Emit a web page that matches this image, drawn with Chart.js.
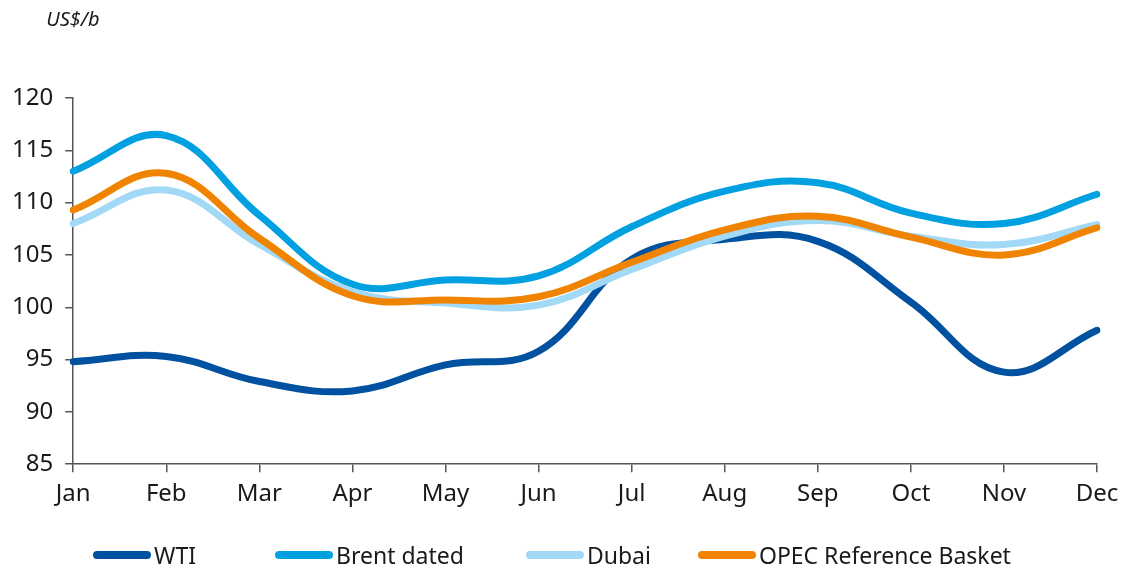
<!DOCTYPE html>
<html>
<head>
<meta charset="utf-8">
<script src="https://cdn.jsdelivr.net/npm/chart.js@4/dist/chart.umd.min.js"></script>
<style>
  html, body { margin: 0; padding: 0; background: #fff; }
  #wrap { width: 1122px; height: 568px; position: relative; }
  #legend {
    position: absolute; left: 93px; top: 539px; height: 32px;
    display: flex; align-items: center;
    font-family: 'Noto Sans', sans-serif; font-size: 23px; color: #1a1a1a;
  }
  #legend .item { display: flex; align-items: center; }
  #legend .swatch { width: 58px; height: 8px; border-radius: 4px; margin-right: 3px; }
</style>
</head>
<body>
<div id="wrap">
  <canvas id="chart" width="1122" height="568"></canvas>
  <div id="legend"></div>
</div>
<script>
// data
const months = ['Jan', 'Feb', 'Mar', 'Apr', 'May', 'Jun', 'Jul', 'Aug', 'Sep', 'Oct', 'Nov', 'Dec'];
const wti = [94.8, 95.3, 92.9, 92.0, 94.5, 95.8, 104.6, 106.5, 106.3, 100.5, 93.8, 97.8];
const brent = [113.0, 116.4, 108.8, 102.2, 102.6, 103.0, 107.7, 111.1, 111.9, 109.0, 108.0, 110.8];
const dubai = [108.0, 111.2, 106.0, 101.5, 100.4, 100.2, 103.6, 106.8, 108.3, 106.8, 106.0, 107.9];
const opec = [109.3, 112.8, 106.6, 101.1, 100.7, 101.0, 104.3, 107.4, 108.7, 106.7, 105.0, 107.6];
const yTicks = [85, 90, 95, 100, 105, 110, 115, 120];

const FONT = "'Noto Sans', sans-serif";
const TXT = '#1a1a1a';
const AXIS = '#555555';

function series(label, data, color, order) {
    return {
        label: label,
        data: data,
        borderColor: color,
        backgroundColor: color,
        borderWidth: 7,
        borderCapStyle: 'round',
        borderJoinStyle: 'round',
        pointRadius: 0,
        pointHoverRadius: 0,
        tension: 0.4,
        fill: false,
        order: order
    };
}

// italic unit label top left
const unitLabel = {
    id: 'unitLabel',
    afterDraw(chart) {
        const ctx = chart.ctx;
        ctx.save();
        ctx.font = "italic 20px " + FONT;
        ctx.fillStyle = TXT;
        ctx.textBaseline = 'middle';
        ctx.textAlign = 'left';
        ctx.fillText('US$/b', chart.chartArea.left - 27, 20);
        ctx.restore();
    }
};

const chart = new Chart(document.getElementById('chart'), {
    type: 'line',
    data: {
        labels: months,
        datasets: [
            series('WTI', wti, '#0052a0', 3),
            series('Brent dated', brent, '#00a0e1', 2),
            series('Dubai', dubai, '#a2d9f7', 1),
            series('OPEC Reference Basket', opec, '#f08300', 0)
        ]
    },
    options: {
        responsive: false,
        animation: false,
        events: [],
        layout: { padding: { left: 0, right: 25, top: 98, bottom: 51 } },
        plugins: {
            tooltip: { enabled: false },
            legend: { display: false }
        },
        scales: {
            x: {
                offset: false,
                // let the layout padding alone decide where Dec sits
                afterFit(scale) { scale.paddingLeft = 0; scale.paddingRight = 0; },
                border: { display: true, color: AXIS, width: 1.5 },
                grid: { drawOnChartArea: false, drawTicks: true, tickLength: 8, color: AXIS, lineWidth: 1.5 },
                ticks: { color: TXT, font: { family: FONT, size: 24 }, padding: 8, maxRotation: 0, autoSkip: false }
            },
            y: {
                min: yTicks[0],
                max: yTicks[yTicks.length - 1],
                afterBuildTicks(axis) { axis.ticks = yTicks.map(v => ({ value: v })); },
                border: { display: true, color: AXIS, width: 1.5 },
                grid: { drawOnChartArea: false, drawTicks: true, tickLength: 8, color: AXIS, lineWidth: 1.5 },
                ticks: { color: TXT, font: { family: FONT, size: 24 }, padding: 12 }
            }
        }
    },
    plugins: [unitLabel]
});

// legend built from the datasets, in dataset order; gaps follow the reference
const legendGaps = [79, 62, 47, 0];
const legendEl = document.getElementById('legend');
chart.data.datasets.forEach((ds, i) => {
    const item = document.createElement('div');
    item.className = 'item';
    item.style.marginRight = legendGaps[i] + 'px';
    const sw = document.createElement('span');
    sw.className = 'swatch';
    sw.style.background = ds.borderColor;
    const txt = document.createElement('span');
    txt.textContent = ds.label;
    item.appendChild(sw);
    item.appendChild(txt);
    legendEl.appendChild(item);
});
</script>
</body>
</html>
